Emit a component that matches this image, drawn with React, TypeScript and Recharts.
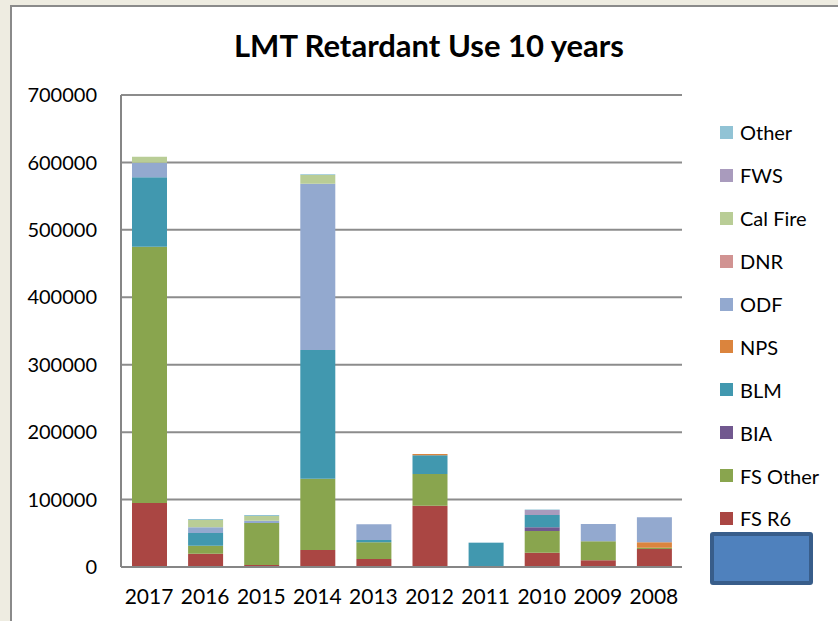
import { Bar, BarChart, CartesianGrid, XAxis, YAxis } from "recharts";

const years = ["2017", "2016", "2015", "2014", "2013", "2012", "2011", "2010", "2009", "2008"];

const fsR6 = [95000, 19700, 3000, 25200, 11900, 90900, 0, 21200, 9900, 26700];
const fsOther = [380000, 12000, 62300, 105800, 24700, 47000, 0, 32200, 28200, 1900];
const bia = [0, 0, 0, 0, 0, 0, 0, 5500, 0, 0];
const blm = [103000, 18800, 0, 190800, 3400, 27700, 36000, 18200, 0, 0];
const nps = [0, 0, 0, 0, 0, 2000, 0, 0, 0, 8000];
const odf = [21500, 8400, 3400, 246700, 23300, 0, 0, 0, 25700, 37100];
const dnr = [0, 0, 0, 0, 0, 0, 0, 0, 0, 0];
const calFire = [9000, 10900, 6900, 12800, 0, 0, 0, 0, 0, 0];
const fws = [0, 0, 0, 0, 0, 0, 0, 7400, 0, 0];
const other = [0, 1500, 1500, 1000, 0, 0, 500, 700, 0, 0];

const yTicks = [0, 100000, 200000, 300000, 400000, 500000, 600000, 700000];

// bottom to top of each stack
const series = [
  { key: "fsR6", name: "FS R6", values: fsR6, color: "#AA4643" },
  { key: "fsOther", name: "FS Other", values: fsOther, color: "#89A54E" },
  { key: "bia", name: "BIA", values: bia, color: "#71588F" },
  { key: "blm", name: "BLM", values: blm, color: "#4198AF" },
  { key: "nps", name: "NPS", values: nps, color: "#DB843D" },
  { key: "odf", name: "ODF", values: odf, color: "#93A9CF" },
  { key: "dnr", name: "DNR", values: dnr, color: "#D19392" },
  { key: "calFire", name: "Cal Fire", values: calFire, color: "#B9CD96" },
  { key: "fws", name: "FWS", values: fws, color: "#A99BBD" },
  { key: "other", name: "Other", values: other, color: "#91C3D5" },
];

const data = years.map((year, i) => {
  const row: Record<string, string | number> = { year };
  series.forEach((s) => {
    row[s.key] = s.values[i];
  });
  return row;
});

const font = "Lato, 'Open Sans', sans-serif";

function LegendBox() {
  const items = [...series].reverse();
  return (
    <div style={{ position: "absolute", left: 720, top: 111, fontFamily: font, fontSize: 20, color: "#000" }}>
      {items.map((s) => (
        <div key={s.key} style={{ display: "flex", alignItems: "center", height: 42.9 }}>
          <span style={{ width: 13, height: 13, background: s.color, marginRight: 7, display: "inline-block" }} />
          <span>{s.name}</span>
        </div>
      ))}
    </div>
  );
}

export default function App() {
  return (
    <div style={{ position: "absolute", left: 0, top: 0, width: 838, height: 621, background: "#EEECE1", overflow: "hidden" }}>
      <div
        style={{
          position: "absolute",
          left: 10,
          top: 5,
          width: 840,
          height: 630,
          background: "#fff",
          borderLeft: "2px solid #8a8a8a",
          borderTop: "2px solid #8a8a8a",
        }}
      />
      <div
        style={{
          position: "absolute",
          left: 0,
          width: 858,
          top: 26,
          textAlign: "center",
          fontFamily: font,
          fontWeight: 700,
          fontSize: 31,
          color: "#000",
        }}
      >
        LMT Retardant Use 10 years
      </div>
      <div style={{ position: "absolute", left: 0, top: 0 }}>
        <BarChart width={838} height={621} data={data} margin={{ top: 95, right: 156, left: 0, bottom: 0 }}>
          <CartesianGrid vertical={false} stroke="#8c8c8c" strokeWidth={2} />
          <XAxis
            dataKey="year"
            height={54}
            tickLine={false}
            tickSize={0}
            tickMargin={22}
            axisLine={{ stroke: "#868686", strokeWidth: 2 }}
            tick={{ fill: "#000", fontSize: 21, fontFamily: font }}
            interval={0}
          />
          <YAxis
            width={121}
            domain={[0, 700000]}
            ticks={yTicks}
            tickLine={false}
            tickSize={0}
            tickMargin={24}
            axisLine={{ stroke: "#868686", strokeWidth: 2 }}
            tick={{ fill: "#000", fontSize: 20, fontFamily: font }}
          />
          {series.map((s) => (
            <Bar
              key={s.key}
              dataKey={s.key}
              name={s.name}
              stackId="a"
              fill={s.color}
              barSize={35}
              isAnimationActive={false}
            />
          ))}
        </BarChart>
      </div>
      <LegendBox />
      <div
        style={{
          position: "absolute",
          left: 710,
          top: 532,
          width: 95,
          height: 45,
          background: "#4F81BD",
          border: "4px solid #385D8A",
          borderRadius: 3,
        }}
      />
    </div>
  );
}
